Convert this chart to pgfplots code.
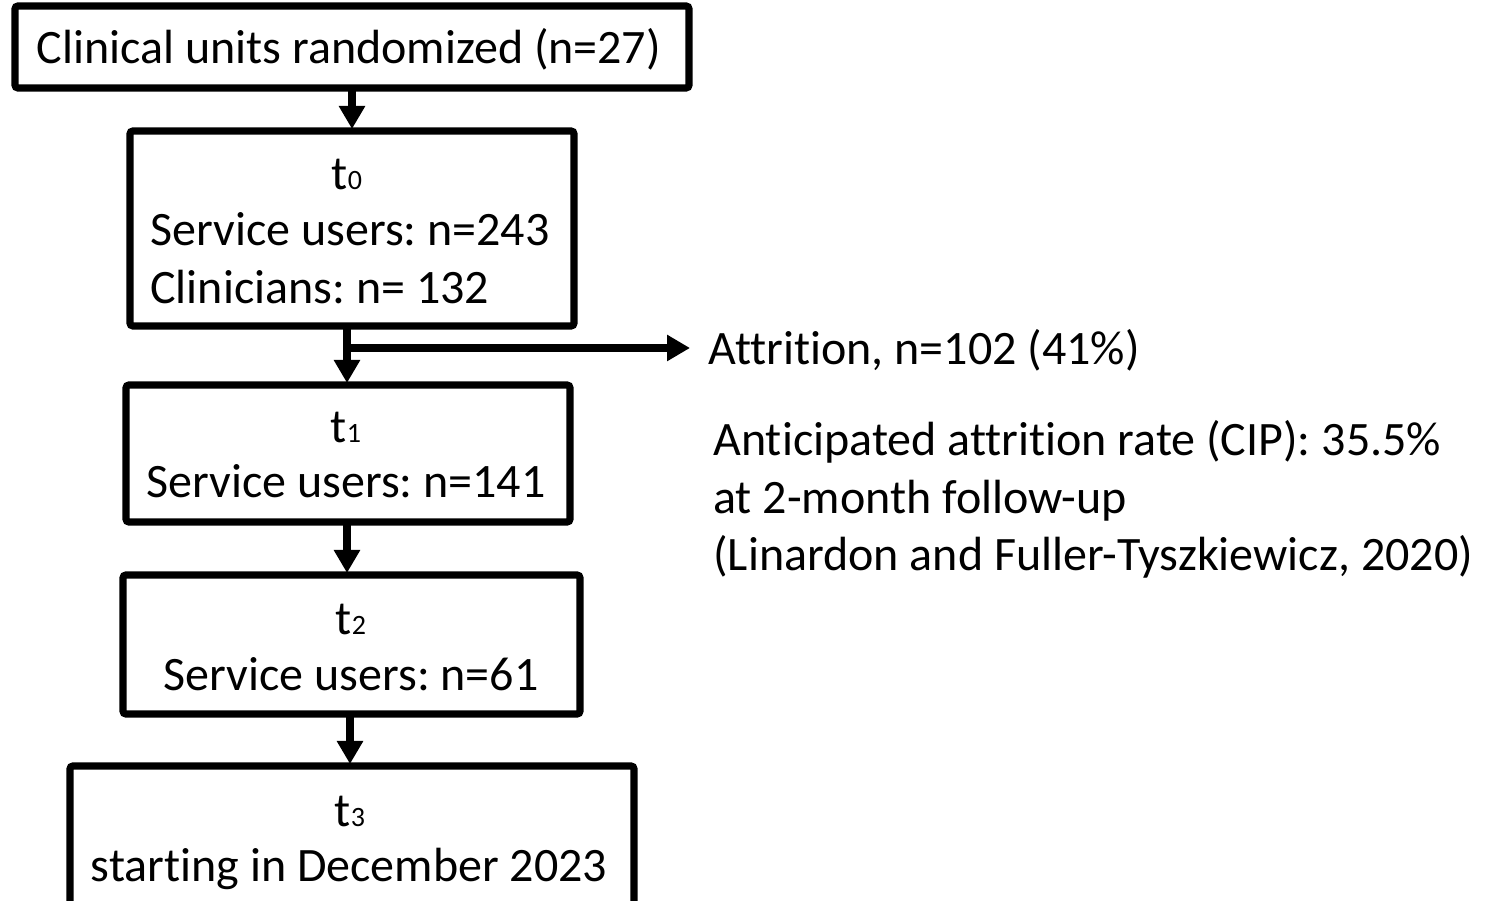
\documentclass[border=0pt]{standalone}
\usepackage{pgfplots}
\pgfplotsset{compat=1.18}
\usepackage{fontspec}
\setmainfont{Carlito}[Ligatures=NoCommon]
\usetikzlibrary{arrows.meta}
\frenchspacing
\newcommand{\sub}[1]{{\fontsize{14bp}{14bp}\selectfont #1}}
\begin{document}
\begin{tikzpicture}
\begin{axis}[
  scale only axis, width=750.5bp, height=450.5bp,
  xmin=0, xmax=1501, ymin=0, ymax=901,
  hide axis, clip=true,
]
\tikzset{box/.style={line width=3.6bp, rounded corners=1.5bp},
  arr/.style={line width=3.8bp, -{Triangle[width=12.5bp,length=11.5bp]}},
  txt/.style={inner sep=0pt, font=\fontsize{24bp}{28bp}\selectfont}}
% boxes (image px, y flipped)
\draw[box] (axis cs:15,813) rectangle (axis cs:689,895);
\draw[box] (axis cs:130,575) rectangle (axis cs:574,770);
\draw[box] (axis cs:126,379) rectangle (axis cs:570,516);
\draw[box] (axis cs:123,187) rectangle (axis cs:580,326);
\draw[box] (axis cs:70,-20) rectangle (axis cs:634,135);
% arrows
\draw[arr] (axis cs:352,811) -- (axis cs:352,772);
\draw[arr] (axis cs:347,577) -- (axis cs:347,518);
\draw[arr] (axis cs:345,553) -- (axis cs:690,553);
\draw[arr] (axis cs:347,381) -- (axis cs:347,328);
\draw[arr] (axis cs:350,189) -- (axis cs:350,137);
% texts
\node[txt, anchor=base] at (axis cs:349,837) {Clinical units randomized (n=27)};
\node[txt, anchor=base] at (axis cs:347,711) {t\sub{0}};
\node[txt, anchor=base west] at (axis cs:150,655) {Service users: n=243};
\node[txt, anchor=base west] at (axis cs:150,597) {Clinicians: n= 132};
\node[txt, anchor=base west] at (axis cs:708,536) {Attrition, n=102 (41\%)};
\node[txt, anchor=base] at (axis cs:346,458) {t\sub{1}};
\node[txt, anchor=base] at (axis cs:346,403) {Service users: n=141};
\node[txt, anchor=base] at (axis cs:351,266) {t\sub{2}};
\node[txt, anchor=base] at (axis cs:351,210) {Service users: n=61};
\node[txt, anchor=base] at (axis cs:350,74) {t\sub{3}};
\node[txt, anchor=base] at (axis cs:349,20) {starting in December 2023};
\node[txt, anchor=base west] at (axis cs:713,445) {Anticipated attrition rate (CIP): 35.5\%};
\node[txt, anchor=base west] at (axis cs:713,387) {at 2-month follow-up};
\node[txt, anchor=base west] at (axis cs:713,330) {(Linardon and Fuller-Tyszkiewicz, 2020)};
\end{axis}
\pgfresetboundingbox
\path[use as bounding box] (current axis.south west) rectangle (current axis.north east);
\end{tikzpicture}
\end{document}
